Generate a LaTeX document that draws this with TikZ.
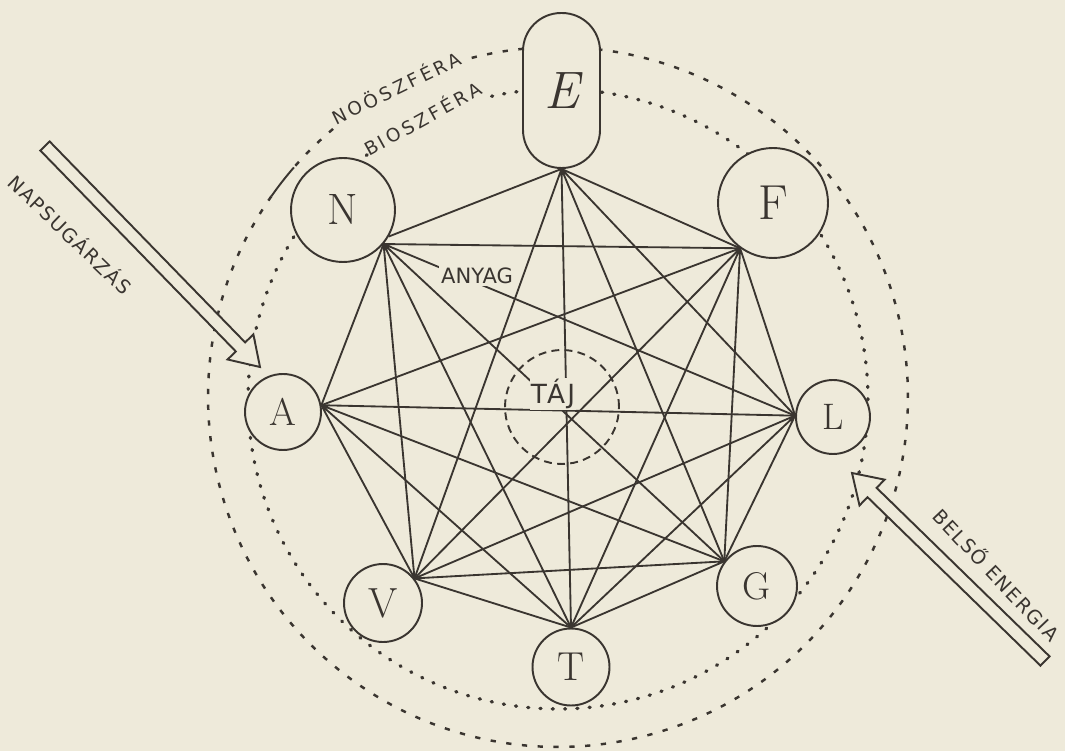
\documentclass[tikz,border=0pt]{standalone}
\usepackage{fontspec}
\usetikzlibrary{calc}
\newfontfamily\hand{DejaVu Sans}
\newfontfamily\handwide[LetterSpace=18]{DejaVu Sans}
\newfontfamily\handmid[LetterSpace=8]{DejaVu Sans}
\definecolor{bg}{HTML}{EEEADA}
\definecolor{ink}{HTML}{3A3530}
\newcommand\hollowarrow[2]{%
  \coordinate (hb) at ($(#2)!0.56cm!(#1)$);
  \draw[harrow] ($(#1)!0.13cm!90:(#2)$) -- ($(hb)!0.13cm!-90:(#1)$) -- ($(hb)!0.36cm!-90:(#1)$) -- (#2) -- ($(hb)!0.36cm!90:(#1)$) -- ($(hb)!0.13cm!90:(#1)$) -- ($(#1)!0.13cm!-90:(#2)$) -- cycle;}
\begin{document}
\begin{tikzpicture}[x=0.02cm,y=0.02cm,
  nd/.style={circle, draw=ink, fill=bg, line width=1.1pt, inner sep=0pt, text=ink},
  edge/.style={draw=ink, line width=1.05pt},
  outerring/.style={draw=ink, line width=1.4pt, dash pattern=on 3pt off 6pt},
  innerring/.style={draw=ink, line width=1.9pt, line cap=round, dash pattern=on 0.6pt off 6.4pt},
  ringlab/.style={text=ink, inner sep=1pt, font=\handwide\fontsize{10.5}{12}\selectfont},
  arrlab/.style={text=ink, inner sep=1pt, font=\handmid\fontsize{11}{13}\selectfont},
  harrow/.style={draw=ink, line width=1.1pt, fill=bg, line join=miter}
]
\fill[bg] (0,0) rectangle (1065,751);
\useasboundingbox (0,0) rectangle (1065,751);

% spheres
\coordinate (Oc) at (558,354);
\coordinate (Ic) at (558,352);
\draw[outerring] ([shift={(145:7cm)}]Oc) arc[start angle=145, end angle=466, radius=7cm];
\draw[outerring] ([shift={(130:7cm)}]Oc) arc[start angle=130, end angle=139, radius=7cm];
\draw[draw=ink, line width=1.1pt] ([shift={(139:7cm)}]Oc) arc[start angle=139, end angle=145, radius=7cm];
\draw[innerring] ([shift={(128:6.2cm)}]Ic) arc[start angle=128, end angle=464, radius=6.2cm];
\node[ringlab, rotate=26] (noo) at (396,664) {NOÖSZFÉRA};
\node[ringlab, rotate=29] (bio) at (422,633) {BIOSZFÉRA};

% landscape ring
\node[circle, draw=ink, line width=1.1pt, dash pattern=on 4.5pt off 3pt, minimum size=2.28cm, inner sep=0pt] (tajring) at (562,344) {};

% nodes
\node[draw=ink, fill=bg, line width=1.1pt, rectangle, rounded corners=0.76cm, minimum width=1.54cm, minimum height=3.1cm, inner sep=0pt, text=ink, font=\fontsize{30}{30}\selectfont\itshape] (E) at (561.5,660.5) {E};
\node[nd, minimum size=2.08cm, font=\fontsize{25}{25}\selectfont] (N) at (343,541) {N};
\node[nd, minimum size=2.2cm, font=\fontsize{28}{28}\selectfont] (F) at (773,548) {F};
\node[nd, minimum size=1.52cm, font=\fontsize{22}{22}\selectfont] (A) at (283,339) {A};
\node[nd, minimum size=1.48cm, font=\fontsize{21}{21}\selectfont] (L) at (833,334) {L};
\node[nd, minimum size=1.56cm, font=\fontsize{24}{24}\selectfont] (V) at (383,148) {V};
\node[nd, minimum size=1.54cm, font=\fontsize{23}{23}\selectfont] (T) at (571,84) {T};
\node[nd, minimum size=1.6cm, font=\fontsize{22}{22}\selectfont] (G) at (757,165) {G};

% edges (complete graph except E--A)
\draw[edge] (E.south) -- (N.-30) (E.south) -- (F.234) (E.south) -- (L.178)
  (E.south) -- (G.143) (E.south) -- (T.90) (E.south) -- (V.38);
\draw[edge] (N.-40) -- (F.234) (N.-40) -- (A.10) (N.-40) -- (L.178)
  (N.-40) -- (G.143) (N.-40) -- (T.90) (N.-40) -- (V.38);
\draw[edge] (F.234) -- (A.10) (F.234) -- (L.178) (F.234) -- (G.143)
  (F.234) -- (T.90) (F.234) -- (V.38);
\draw[edge] (A.10) -- (L.178) (A.10) -- (G.143) (A.10) -- (T.90) (A.10) -- (V.38);
\draw[edge] (L.178) -- (G.143) (L.178) -- (T.90) (L.178) -- (V.38);
\draw[edge] (G.143) -- (T.90) (G.143) -- (V.38);
\draw[edge] (T.90) -- (V.38);

% labels on edges
\node[fill=bg, inner sep=1pt, text=ink, font=\hand\fontsize{12}{12}\selectfont] (anyag) at (477,475) {ANYAG};
\node[fill=bg, inner sep=0.5pt, text=ink, font=\handmid\fontsize{15}{15}\selectfont] (taj) at (553,357) {TÁJ};

% energy arrows
\coordinate (sunA) at (45,605);
\coordinate (sunB) at (260,384);
\hollowarrow{sunA}{sunB}
\node[arrlab, rotate=-44] (sun) at (71,517) {NAPSUGÁRZÁS};
\coordinate (inA) at (1045,90);
\coordinate (inB) at (852,278);
\hollowarrow{inA}{inB}
\node[arrlab, rotate=-46.5] (belso) at (997,177) {BELSŐ ENERGIA};
\end{tikzpicture}
\end{document}
